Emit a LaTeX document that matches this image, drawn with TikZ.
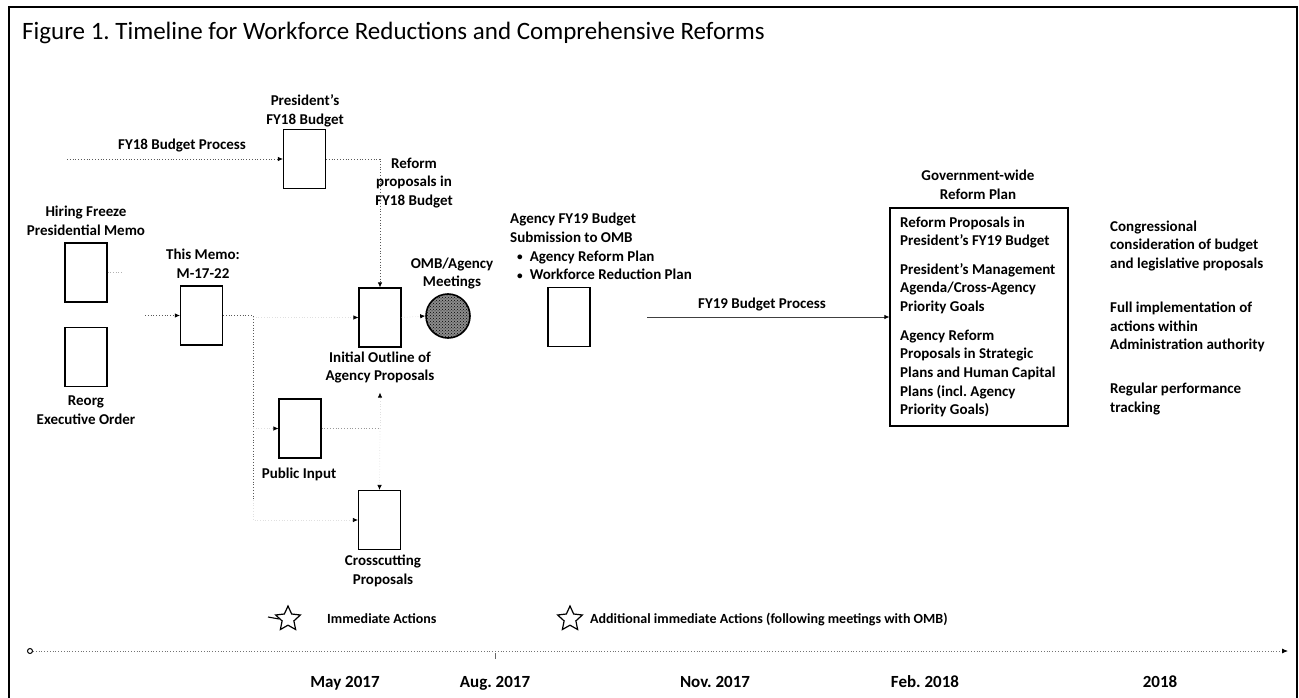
\documentclass[tikz,border=0pt]{standalone}
\usepackage{fontspec}
\setmainfont{Carlito}
\usetikzlibrary{arrows.meta,patterns,shapes.geometric}
\frenchspacing
\newcommand{\smallbullet}{\raisebox{0.5pt}{\scalebox{0.75}{\textbullet}}}
\begin{document}
\begin{tikzpicture}[x=1pt,y=-1pt,
  box/.style={draw,line width=1.1pt,minimum width=42pt,minimum height=59pt,inner sep=0pt},
  lbl/.style={font=\bfseries\fontsize{15}{18.7}\selectfont,align=center,inner sep=0pt},
  lblleft/.style={font=\bfseries\fontsize{15}{18.7}\selectfont,align=left,inner sep=0pt},
  legtext/.style={font=\bfseries\fontsize{14}{17}\selectfont,inner sep=0pt,anchor=west},
  conn/.style={dotted,line width=0.8pt,black!65},
  faint/.style={dotted,line width=0.7pt,black!12},
  tip/.style={-{Latex[length=5pt,width=4.5pt,color=black]}},
  datelbl/.style={font=\bfseries\fontsize{17}{20}\selectfont,inner sep=0pt,anchor=base},
  legstar/.style={star,star points=5,star point ratio=2.1,draw,line width=1.2pt,minimum size=26pt,inner sep=0pt}
]
\useasboundingbox (0,0) rectangle (1299,698);
\draw[line width=1.2pt] (9,698) -- (9,7) -- (1297,7) -- (1297,698);

% title
\node[anchor=west,font=\fontsize{25}{29}\selectfont,inner sep=0pt] (title) at (22,33)
  {Figure 1. Timeline for Workforce Reductions and Comprehensive Reforms};

% boxes
\node[box] (pres) at (304.5,159) {};
\node[box] (hire) at (86,272.5) {};
\node[box] (reorg) at (86,357) {};
\node[box] (memo) at (201.5,315.5) {};
\node[box] (outline) at (380,317.5) {};
\node[box] (sub) at (569,317) {};
\node[box] (public) at (300,428.5) {};
\node[box] (cross) at (379.5,520) {};
\node[circle,draw,line width=1.6pt,minimum size=44pt,inner sep=0pt,
      preaction={fill=black!45},pattern=crosshatch dots] (omb) at (448,316) {};
\node[draw,line width=1.1pt,minimum width=178pt,minimum height=218pt,inner sep=0pt] (gov) at (979,317) {};

% labels
\node[lbl] (presl) at (305,111) {President's\\FY18 Budget};
\node[lbl] (fy18l) at (182,146) {FY18 Budget Process};
\node[lbl] (reforml) at (414,183) {Reform\\proposals in\\FY18 Budget};
\node[lbl] (hirel) at (86,221) {Hiring Freeze\\Presidential Memo};
\node[lbl] (reorgl) at (86,410.5) {Reorg\\Executive Order};
\node[lbl] (memol) at (203,264) {This Memo:\\M-17-22};
\node[lbl] (outlinel) at (380,367.5) {Initial Outline of\\Agency Proposals};
\node[lbl] (ombl) at (452,273.5) {OMB/Agency\\Meetings};
\node[lblleft,anchor=west] (subl) at (510,246.5)
  {Agency FY19 Budget\\Submission to OMB\\\hspace*{7pt}\smallbullet\hspace{7pt}Agency Reform Plan\\\hspace*{7pt}\smallbullet\hspace{7pt}Workforce Reduction Plan};
\node[lbl] (fy19l) at (762,305) {FY19 Budget Process};
\node[lbl] (govl) at (978,185) {Government-wide\\Reform Plan};
\node[lblleft,anchor=west] (govtext) at (900,317)
  {Reform Proposals in\\President's FY19 Budget\\[9.5pt]
   President's Management\\Agenda/Cross-Agency\\Priority Goals\\[10pt]
   Agency Reform\\Proposals in Strategic\\Plans and Human Capital\\Plans (incl. Agency\\Priority Goals)};
\node[lblleft,anchor=west] (congl) at (1110,246) {Congressional\\consideration of budget\\and legislative proposals};
\node[lblleft,anchor=west] (impl) at (1110,327) {Full implementation of\\actions within\\Administration authority};
\node[lblleft,anchor=west] (perfl) at (1110,399) {Regular performance\\tracking};
\node[lbl] (publicl) at (299,474) {Public Input};
\node[lbl] (crossl) at (383,571) {Crosscutting\\Proposals};

% connectors
\coordinate (fy18start) at (67,159);
\draw[conn,tip] (fy18start) -- (pres.west);
\draw[conn,tip] (pres.east) -- (380,159) -- (outline.north);
\coordinate (memoin) at (145,315.5);
\draw[conn,tip] (memoin) -- (memo.west);
\draw[dotted,line width=0.7pt,black!30] (hire.east) -- ++(14,0);
\coordinate (split) at (253,315.5);
\coordinate (splitend) at (253,500);
\draw[conn] (memo.east) -- (split) -- (splitend);
\draw[faint,tip] (split |- outline.west) -- (outline.west);
\draw[faint,tip] (split |- public.west) -- (public.west);
\draw[faint,tip] (splitend) -- (split |- cross.west) -- (cross.west);
\coordinate (pubturn) at (public.east -| outlinel.south);
\draw[conn,black!40] (public.east) -- (pubturn);
\draw[faint,tip,shorten >=9pt] (pubturn) -- (outlinel.south);
\draw[faint,tip] (pubturn) -- (cross.north);
\draw[faint,tip] (outline.east) -- (omb.west);
\coordinate (fy19start) at (647,317);
\draw[line width=0.8pt,black!75,tip] (fy19start) -- (gov.west);

% legend
\node[legstar] (s1) at (288,619) {};
\coordinate (s1tail) at (268,617);
\draw[line width=1.1pt] (s1tail) -- (s1.west);
\node[legtext] (l1) at (327,619) {Immediate Actions};
\node[legstar] (s2) at (570,619) {};
\node[legtext] (l2) at (590,619) {Additional immediate Actions (following meetings with OMB)};

% timeline
\node[circle,draw,line width=1pt,minimum size=5pt,inner sep=0pt] (origin) at (30,651) {};
\coordinate (tlend) at (1288,651);
\draw[dotted,line width=0.8pt,black!55,-{Latex[length=6pt,width=5pt,color=black]}] (origin) -- (tlend);
\draw[black!60,line width=0.6pt] (495,653) -- (495,659);

\node[datelbl] (may) at (345,687) {May 2017};
\node[datelbl] (aug) at (495,687) {Aug. 2017};
\node[datelbl] (nov) at (715,687) {Nov. 2017};
\node[datelbl] (feb) at (925,687) {Feb. 2018};
\node[datelbl] (y18) at (1160,687) {2018};
\end{tikzpicture}
\end{document}
